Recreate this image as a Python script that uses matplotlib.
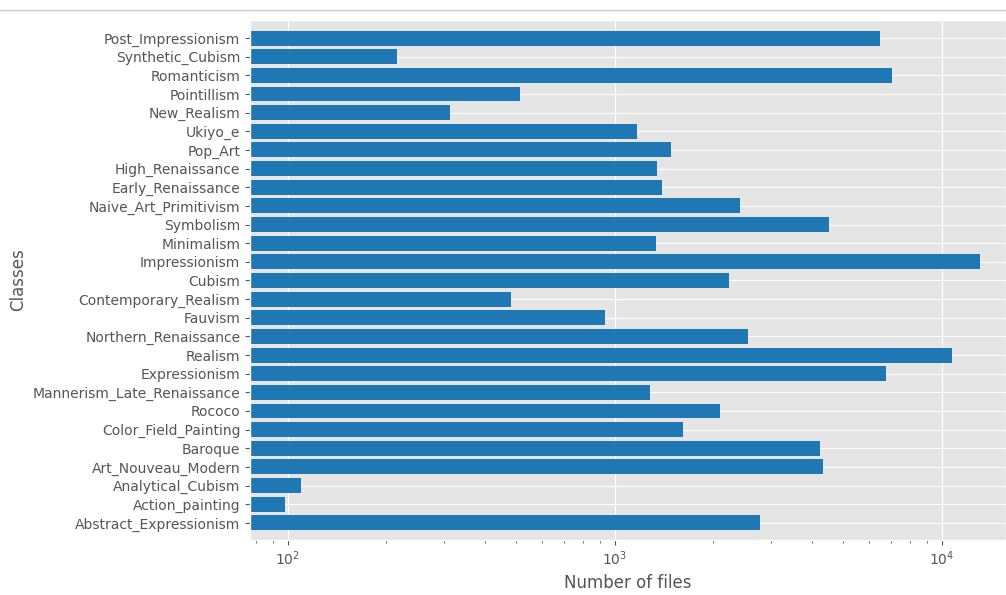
import numpy as np
import matplotlib
import matplotlib.pyplot as plt
from matplotlib.lines import Line2D

matplotlib.use('agg')
matplotlib.style.use('ggplot')

classes = ['Abstract_Expressionism', 'Action_painting', 'Analytical_Cubism',
           'Art_Nouveau_Modern', 'Baroque', 'Color_Field_Painting', 'Rococo',
           'Mannerism_Late_Renaissance', 'Expressionism', 'Realism',
           'Northern_Renaissance', 'Fauvism', 'Contemporary_Realism', 'Cubism',
           'Impressionism', 'Minimalism', 'Symbolism', 'Naive_Art_Primitivism',
           'Early_Renaissance', 'High_Renaissance', 'Pop_Art', 'Ukiyo_e',
           'New_Realism', 'Pointillism', 'Romanticism', 'Synthetic_Cubism',
           'Post_Impressionism']
counts = [2782, 98, 110, 4334, 4240, 1615, 2089, 1279, 6736, 10733,
          2552, 934, 481, 2235, 13060, 1337, 4528, 2405, 1391, 1343,
          1483, 1167, 314, 513, 7019, 216, 6450]

fig = plt.figure(figsize=(10.06, 5.95), dpi=100)
ax = fig.add_axes([0.2485, 0.0924, 0.7515, 0.874])

ax.barh(classes, counts, height=0.8, color='#1f77b4')
ax.set_xscale('log')
ax.set_xlim(76.6, 15700)
ax.set_ylim(-0.92, 26.97)

ax.tick_params(axis='both', labelsize=10, colors='#555555')
ax.set_xlabel('Number of files', fontsize=12, color='#555555')
ax.set_ylabel('Classes', fontsize=12, color='#555555')

# notebook cell border at the top
fig.add_artist(Line2D([0, 1], [1 - 10/595, 1 - 10/595], color='#cccccc', lw=1))

plt.savefig('out.png', dpi=100)
